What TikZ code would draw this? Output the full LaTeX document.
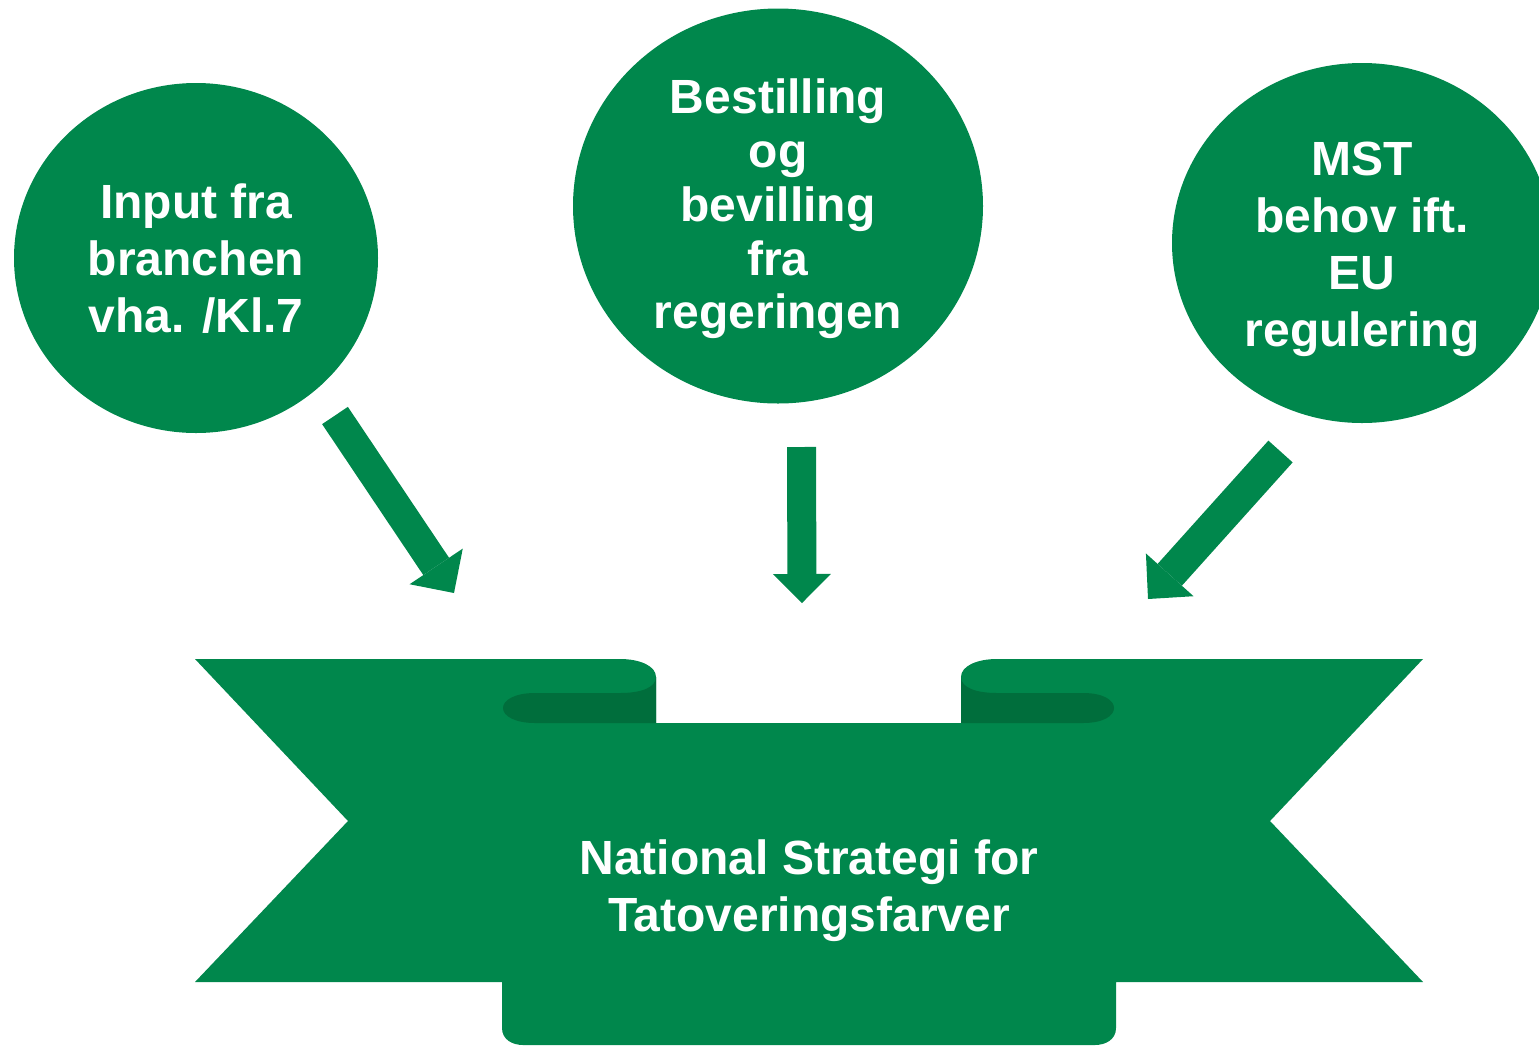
\documentclass[tikz,border=0pt]{standalone}
\usepackage{fontspec}
\setmainfont{Liberation Sans}
\usetikzlibrary{arrows.meta,shapes.geometric}
\definecolor{bgreen}{RGB}{0,135,76}
\definecolor{dgreen}{RGB}{0,110,60}
\begin{document}
\begin{tikzpicture}[x=1pt,y=-1pt,
  bubble/.style={ellipse,fill=bgreen,inner sep=0pt},
  bubbletext/.style={text=white,align=center,inner sep=0pt,
    font=\bfseries\fontsize{48}{57}\selectfont},
  blockarrow/.style={draw=bgreen,line width=#1},
  bannertext/.style={text=white,align=center,font=\bfseries\fontsize{48}{57}\selectfont}]
\useasboundingbox (0,0) rectangle (1539,1045);
\clip (0,0) rectangle (1539,1045);
% bubbles
\node[bubble,minimum width=364pt,minimum height=350pt] (c1) at (196,258) {};
\node[bubble,minimum width=410pt,minimum height=395pt] (c2) at (778,206) {};
\node[bubble,minimum width=380pt,minimum height=360pt] (c3) at (1362,243) {};
\node[bubbletext] (t1) at ([yshift=-1pt]c1.center) {Input fra\\branchen\\vha. /Kl.7};
\node[bubbletext,font=\bfseries\fontsize{48}{53.7}\selectfont] (t2) at ([yshift=-3pt]c2.center)
  {Bestilling\\og\\bevilling\\fra\\regeringen};
\node[bubbletext] (t3) at ([yshift=-6pt]c3.center) {MST\\behov ift.\\EU\\regulering};
% banner
\fill[bgreen] (195,659) -- (620,659) .. controls (640,659) and (656,666) .. (656,677)
  -- (656,723) -- (961,723) -- (961,677) .. controls (961,666) and (977,659) .. (997,659)
  -- (1423,659) -- (1270,821) -- (1423,982) -- (1116,982) -- (1116,1028)
  .. controls (1116,1040) and (1105,1045) .. (1095,1045) -- (523,1045)
  .. controls (513,1045) and (502,1040) .. (502,1028) -- (502,982) -- (195,982)
  -- (348,821) -- cycle;
\fill[dgreen] (656,677) .. controls (656,688) and (640,693) .. (620,693) -- (535,693)
  .. controls (515,693) and (503,700) .. (503,708) .. controls (503,716) and (515,723) .. (535,723)
  -- (656,723) -- cycle;
\fill[dgreen] (961,677) .. controls (961,688) and (977,693) .. (997,693) -- (1083,693)
  .. controls (1103,693) and (1114,700) .. (1114,708) .. controls (1114,716) and (1103,723) .. (1083,723)
  -- (961,723) -- cycle;
\node[bannertext] (ban) at (809,891) {National Strategi for\\Tatoveringsfarver};
% arrows
\coordinate (a1s) at (335,415.5);
\coordinate (a1e) at (454,593);
\coordinate (a2s) at (801.5,447);
\coordinate (a2e) at (802,603);
\coordinate (a3s) at (1280.5,451.5);
\coordinate (a3e) at (1148,599);
\draw[blockarrow=31pt,-{Triangle[width=64pt,length=32pt,line width=0pt]}] (a1s) -- (a1e);
\draw[blockarrow=29pt,-{Triangle[width=58pt,length=29pt,line width=0pt]}] (a2s) -- (a2e);
\draw[blockarrow=32.6pt,-{Triangle[width=64pt,length=32.5pt,line width=0pt]}] (a3s) -- (a3e);
\end{tikzpicture}
\end{document}
